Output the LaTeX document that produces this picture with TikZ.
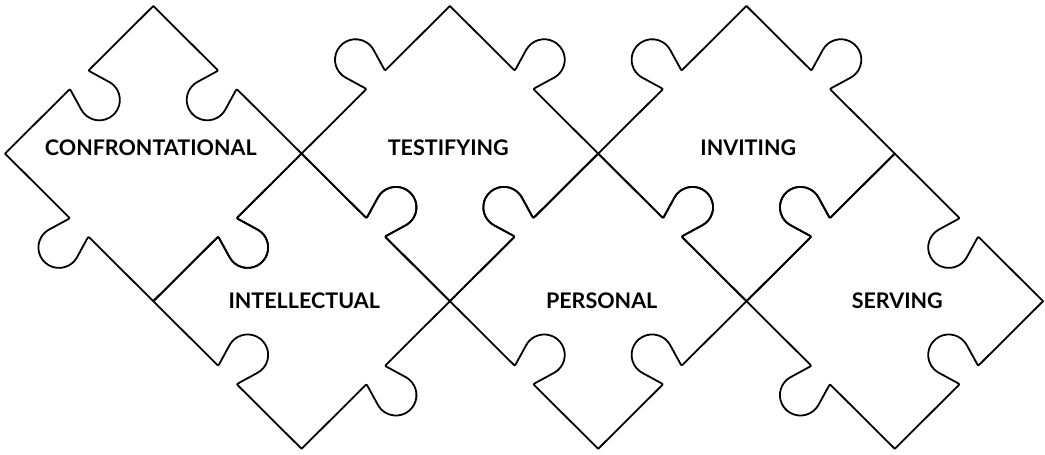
\documentclass[tikz,border=0pt]{standalone}
\usepackage{fontspec}
\setmainfont{Lato}
% one side of a puzzle piece: start vertex, direction angle, +1 = tab outward, -1 = blank
\newcommand\pzside[3]{%
  {[shift={#1}, rotate=#2, yscale=#3]
   -- (88.65,0) .. controls (91.65,0) .. (90.81,2.88) -- (84.98,22.72)
   arc[start angle=196.37, end angle=-16.37, radius=20.5]
   -- (118.49,2.88) .. controls (117.65,0) .. (120.65,0) -- (209.30,0)}}
% a piece: centre x, centre y, signs of upper-left, upper-right, lower-right, lower-left sides
\newcommand\pzpiece[6]{%
  \draw[piece] (#1-148,#2) \pzside{(#1-148,#2)}{45}{#3}
    \pzside{(#1,#2+148)}{-45}{#4}
    \pzside{(#1+148,#2)}{-135}{#5}
    \pzside{(#1,#2-148)}{135}{#6} -- cycle;}
\begin{document}
\begin{tikzpicture}[x=1pt,y=1pt,
  piece/.style={draw=black,line width=1.8pt,line join=round,line cap=round},
  lbl/.style={font=\bfseries\fontsize{21.5}{26}\selectfont,anchor=base,inner sep=0pt,text=black}]
\useasboundingbox (0,0) rectangle (1045,455);
\fill[white] (0,0) rectangle (1045,455);
\begin{scope}[shift={(5,301.4)}, xscale=1.002, yscale=0.9973]
  \pzpiece{148}{0}{-1}{-1}{1}{1}
  \pzpiece{444}{0}{1}{1}{-1}{-1}
  \pzpiece{740}{0}{1}{1}{-1}{-1}
  \pzpiece{296}{-148}{-1}{1}{1}{-1}
  \pzpiece{592}{-148}{1}{1}{-1}{-1}
  \pzpiece{888}{-148}{1}{-1}{-1}{1}
\end{scope}
\node[lbl] (confr) at (150.8,299.5) {CONFRONTATIONAL};
\node[lbl] (testi) at (448.3,299.5) {TESTIFYING};
\node[lbl] (invit) at (748.3,299.5) {INVITING};
\node[lbl] (intel) at (304.2,146.5) {INTELLECTUAL};
\node[lbl] (perso) at (601.7,146.5) {PERSONAL};
\node[lbl] (servi) at (897.3,146.5) {SERVING};
\end{tikzpicture}
\end{document}
